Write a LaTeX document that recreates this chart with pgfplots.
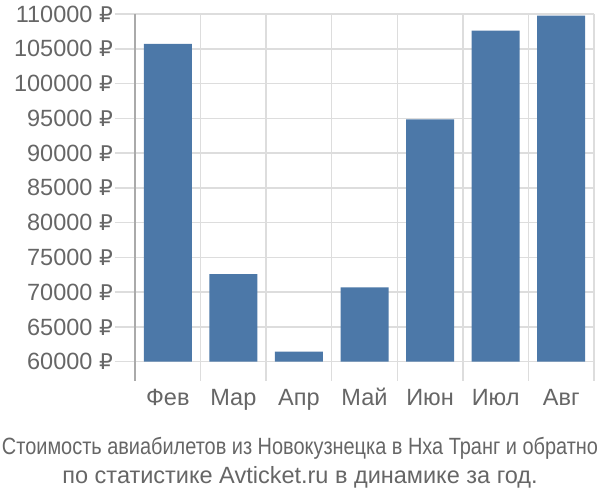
\documentclass[border=0pt]{standalone}
\usepackage{pgfplots}
\pgfplotsset{compat=1.18}
\usepackage{fontspec}
\setmainfont{Liberation Sans}
\newfontfamily\rubfont[Scale=0.92]{DejaVu Sans}
\usepackage{graphicx}
\definecolor{barblue}{RGB}{76,120,168}
\definecolor{txt}{RGB}{102,102,102}
\definecolor{gridc}{RGB}{221,221,221}
\definecolor{axc}{RGB}{170,170,170}
\begin{document}
\fontsize{23.5bp}{28bp}\selectfont
\begin{tikzpicture}
\begin{axis}[
  at={(135bp,138.3bp)}, anchor=south west,
  scale only axis, width=459bp, height=347.7bp,
  xmin=-0.5, xmax=6.5, ymin=60000, ymax=110000,
  axis line style={draw=none},
  ytick={60000,65000,...,110000},
  scaled y ticks=false,
  xtick={0,...,6},
  xticklabels={Фев,Мар,Апр,Май,Июн,Июл,Авг},
  minor xtick={-0.5,0.5,...,6.5},
  tick align=outside,
  xtick pos=left, ytick pos=left,
  major tick length=20bp, minor tick length=19bp,
  major x tick style={draw=none},
  tick style={gridc, line width=1.5bp},
  ymajorgrids, xminorgrids, xmajorgrids=false,
  grid style={gridc, line width=1.5bp},
  minor grid style={gridc, line width=1.5bp},
  /pgf/number format/.cd, 1000 sep={}, fixed, precision=0, assume math mode=true,
  /pgfplots/.cd,
  yticklabel={\pgfmathprintnumber{\tick} {\rubfont ₽}},
  ticklabel style={txt, font=\fontsize{23.5bp}{28bp}\selectfont},
  yticklabel style={inner xsep=2bp},
  xticklabel style={anchor=base, yshift=-24bp},
]
\addplot[ybar, bar width=48bp, fill=barblue, draw=none] coordinates {
(0,105700) (1,72600) (2,61450) (3,70700) (4,94850) (5,107600) (6,109750)};
\end{axis}
\draw[axc, line width=1.5bp] (135bp,486bp) -- (135bp,119bp);
\node[anchor=base, txt, inner sep=0pt] at (300bp,45bp) {\resizebox{596bp}{\height}{Стоимость авиабилетов из Новокузнецка в Нха Транг и обратно}};
\node[anchor=base, txt, inner sep=0pt] at (300bp,17bp) {по статистике Avticket.ru в динамике за год.};
\pgfresetboundingbox
\useasboundingbox (0,0) rectangle (600bp,500bp);
\end{tikzpicture}
\end{document}
